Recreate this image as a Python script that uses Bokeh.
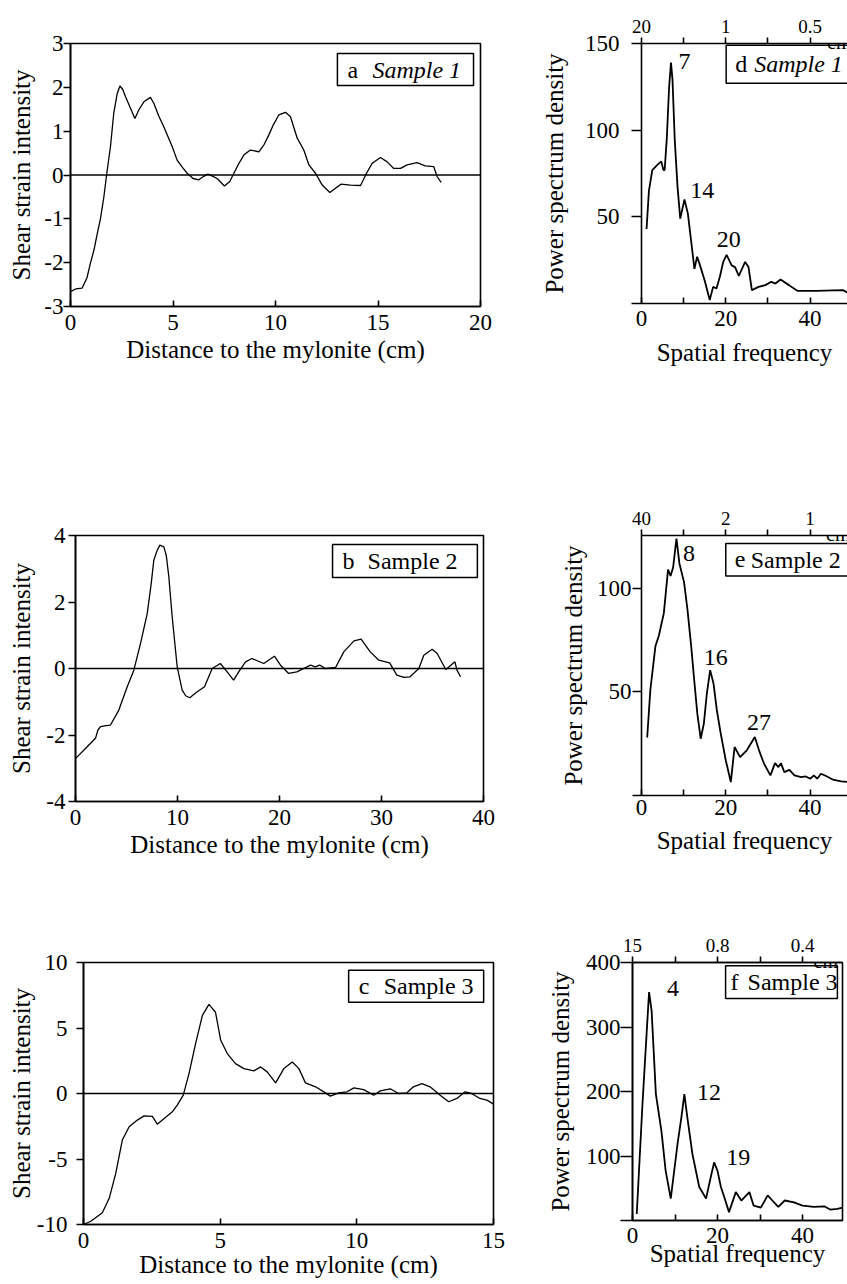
import math
from bokeh.plotting import figure
from bokeh.models import Range1d, FixedTicker, LinearAxis, Span, Label, BoxAnnotation
from bokeh.layouts import column, row
from bokeh.embed import file_html
from bokeh.resources import INLINE

FONT = "Liberation Serif"

# ---------------- data ----------------
# a  Sample 1 : shear strain profile
s1_dist = [0, 0.25, 0.57, 0.8, 0.98, 1.15, 1.3, 1.46, 1.63, 1.76, 1.95, 2.11, 2.28, 2.41, 2.55,
           2.68, 2.9, 3.14, 3.35, 3.58, 3.9, 4.07, 4.3, 4.55, 4.96, 5.2, 5.45, 5.69, 5.98, 6.26,
           6.5, 6.7, 6.9, 7.15, 7.51, 7.77, 7.97, 8.2, 8.46, 8.78, 9.19, 9.45, 9.67, 9.9, 10.16,
           10.49, 10.73, 11.06, 11.38, 11.63, 11.95, 12.28, 12.65, 12.93, 13.2, 13.66, 14.15,
           14.44, 14.72, 15.12, 15.45, 15.77, 16.1, 16.42, 16.9, 17.3, 17.72, 17.89, 18.08]
s1_strain = [-2.66, -2.6, -2.58, -2.35, -2.0, -1.7, -1.35, -1.0, -0.49, 0.0, 0.65, 1.41, 1.86,
             2.03, 1.95, 1.79, 1.55, 1.29, 1.5, 1.67, 1.77, 1.63, 1.35, 1.10, 0.65, 0.34, 0.18,
             0.04, -0.08, -0.11, -0.03, 0.02, -0.02, -0.08, -0.25, -0.15, 0.04, 0.25, 0.46, 0.57,
             0.53, 0.7, 0.91, 1.15, 1.37, 1.43, 1.33, 0.84, 0.57, 0.23, 0.04, -0.23, -0.40, -0.30,
             -0.21, -0.23, -0.24, 0.04, 0.27, 0.40, 0.30, 0.15, 0.15, 0.23, 0.28, 0.21, 0.19,
             -0.04, -0.17]

# b  Sample 2
s2_dist = [0, 1.0, 1.96, 2.2, 2.45, 3.0, 3.43, 4.25, 5.07, 5.72, 6.37, 7.03, 7.4, 7.68, 8.0,
           8.27, 8.66, 8.9, 9.15, 9.48, 9.97, 10.46, 10.8, 11.2, 11.93, 12.65, 13.4, 14.2, 14.87,
           15.5, 16.0, 16.67, 17.3, 18.46, 19.5, 20.1, 20.9, 21.7, 23.04, 23.5, 23.95, 24.5, 25.5,
           26.3, 27.3, 28.0, 28.9, 29.74, 30.8, 31.5, 32.2, 32.8, 33.66, 34.15, 34.97, 35.46,
           36.3, 36.8, 37.2, 37.4, 37.75]
s2_strain = [-2.71, -2.4, -2.1, -1.85, -1.75, -1.72, -1.70, -1.25, -0.55, -0.05, 0.75, 1.65, 2.5,
             3.26, 3.55, 3.71, 3.66, 3.4, 2.76, 1.55, 0.05, -0.65, -0.82, -0.88, -0.70, -0.55,
             0.0, 0.15, -0.1, -0.35, -0.1, 0.2, 0.3, 0.15, 0.37, 0.1, -0.15, -0.10, 0.10, 0.05,
             0.1, 0.0, 0.03, 0.5, 0.83, 0.88, 0.5, 0.25, 0.17, -0.2, -0.27, -0.25, 0.0, 0.4,
             0.58, 0.45, -0.03, 0.1, 0.2, -0.05, -0.25]

# c  Sample 3
s3_dist = [0, 0.27, 0.69, 0.94, 1.18, 1.42, 1.67, 1.97, 2.22, 2.52, 2.70, 2.95, 3.25, 3.43, 3.65,
           3.86, 4.10, 4.35, 4.59, 4.83, 5.02, 5.26, 5.56, 5.87, 6.23, 6.48, 6.72, 7.03, 7.33,
           7.64, 7.88, 8.12, 8.49, 8.85, 9.03, 9.34, 9.64, 9.89, 10.25, 10.62, 10.86, 11.22,
           11.53, 11.83, 12.07, 12.38, 12.68, 13.05, 13.36, 13.66, 13.96, 14.2, 14.5, 14.76, 15.0]
s3_strain = [-10.0, -9.75, -9.1, -8.0, -6.1, -3.55, -2.54, -2.03, -1.71, -1.74, -2.34, -1.9,
             -1.4, -0.89, -0.13, 1.52, 3.81, 5.96, 6.8, 6.2, 4.06, 3.05, 2.28, 1.9, 1.73, 2.03,
             1.65, 0.81, 1.9, 2.41, 1.9, 0.81, 0.51, 0.05, -0.2, 0.05, 0.13, 0.43, 0.3, -0.13,
             0.2, 0.36, 0.0, 0.05, 0.51, 0.76, 0.51, -0.13, -0.63, -0.38, 0.13, 0.0, -0.38,
             -0.51, -0.81]

# d  Sample 1 : power spectrum
s1_freq = [1.2, 1.76, 2.56, 3.76, 4.7, 5.2, 5.5, 6.0, 6.56, 7.0, 7.36, 7.9, 8.56, 9.2, 10.2,
           11.0, 11.76, 12.56, 13.2, 13.76, 14.96, 16.2, 17.0, 17.8, 18.6, 19.4, 20.2, 21.4,
           22.2, 23.1, 24.6, 25.4, 26.2, 27.8, 29.4, 30.8, 31.8, 33.0, 35.0, 37.0, 41.4, 47.8, 49.4]
s1_psd = [43, 65, 77, 80, 82, 77, 77, 95, 125, 139, 129, 94, 67, 49, 60, 52, 36.5, 20, 27, 23,
          13.5, 2, 9.6, 8.7, 15.4, 24, 28, 22, 21, 16, 24, 21, 7.7, 9.6, 10.6, 12.5, 11.5, 13.8,
          10.6, 7.3, 7.3, 7.7, 5.8]

# e  Sample 2
s2_freq = [1.35, 2.1, 3.3, 4.1, 5.3, 6.3, 6.9, 7.5, 8.3, 9.0, 10.1, 10.9, 11.8, 12.5, 13.25,
           14.05, 14.8, 15.5, 16.3, 17.1, 17.9, 18.8, 20.0, 21.2, 22.1, 23.4, 25.0, 26.9, 27.9,
           29.1, 30.6, 31.7, 32.5, 33.1, 33.9, 35.1, 36.3, 37.9, 39.0, 40.1, 40.9, 41.7, 42.6,
           43.8, 45.4, 47.4, 49.0]
s2_psd = [28, 51, 72, 77, 88, 109, 106, 110, 124, 112, 103, 90, 72, 56, 39.5, 27.4, 34.7, 49,
          60.5, 54, 41, 30, 17, 6.5, 23.4, 18.5, 21.8, 28.2, 21.8, 15.3, 9.7, 15.6, 13.7, 15.6,
          11.3, 12.4, 9.7, 8.9, 9.2, 8.1, 9.7, 8.1, 10.5, 9.4, 7.7, 6.8, 6.5]

# f  Sample 3
s3_freq = [1.0, 2.35, 3.4, 3.9, 4.5, 5.5, 6.8, 7.8, 9.0, 10.6, 11.5, 12.2, 12.9, 14.1, 15.7,
           17.3, 18.4, 19.2, 20.0, 20.8, 21.6, 22.7, 24.3, 25.6, 27.5, 28.5, 30.2, 31.8, 32.9,
           34.3, 35.8, 38.0, 40.0, 42.7, 45.1, 46.5, 48.2, 49.4]
s3_psd = [10, 181, 299, 354, 325, 196, 139, 77, 34, 119, 160, 196, 160, 103, 52, 34, 67, 90, 77,
          52, 36, 13, 44, 31, 44, 23, 20, 39, 31, 21, 31, 28, 23, 21, 22, 17, 18, 20]

peaks_1 = ["7", "14", "20"]
peaks_2 = ["8", "16", "27"]
peaks_3 = ["4", "12", "19"]

wavelength_1 = ["20", "1", "0.5"]
wavelength_2 = ["40", "2", "1"]
wavelength_3 = ["15", "0.8", "0.4"]

# ---------------- helpers ----------------
def make_fig(xr, yr, g, outline=True):
    p = figure(x_range=Range1d(xr[0], xr[1]), y_range=Range1d(yr[0], yr[1]),
               frame_width=g["fw"], frame_height=g["fh"],
               min_border_left=g["bl"], min_border_top=g["bt"],
               min_border_bottom=g["bb"], min_border_right=g["br"],
               toolbar_location=None, tools="", output_backend="svg")
    p.xgrid.visible = False
    p.ygrid.visible = False
    p.background_fill_color = "white"
    p.border_fill_color = "white"
    p.outline_line_color = "black" if outline else None
    p.outline_line_alpha = 1.0
    p.outline_line_width = 1.6
    return p


def style_axis(ax, ticks, labels, size, tick_in, tick_out, standoff,
               title=None, title_standoff=0):
    ax.ticker = FixedTicker(ticks=ticks)
    ax.major_label_overrides = {t: s for t, s in zip(ticks, labels)}
    ax.axis_line_color = "black"
    ax.axis_line_width = 1.6
    ax.major_tick_line_color = "black"
    ax.major_tick_line_width = 1.6
    ax.major_tick_in = tick_in
    ax.major_tick_out = tick_out
    ax.minor_tick_line_color = None
    ax.major_label_standoff = standoff
    ax.major_label_text_font = FONT
    ax.major_label_text_font_size = size
    ax.major_label_text_color = "black"
    if title is not None:
        ax.axis_label = title
        ax.axis_label_standoff = title_standoff
        ax.axis_label_text_font = FONT
        ax.axis_label_text_font_size = "25px"
        ax.axis_label_text_font_style = "normal"
        ax.axis_label_text_color = "black"


def add_text(p, x, y, s, size="24px", align="center", baseline="middle", style="normal"):
    p.add_layout(Label(x=x, y=y, text=s, text_font=FONT, text_font_size=size,
                       text_align=align, text_baseline=baseline, text_font_style=style,
                       text_color="black"))


def scales(xr, yr, g):
    return g["fw"] / (xr[1] - xr[0]), g["fh"] / (yr[1] - yr[0])


def legend_box(p, xr, yr, g, box, letter, sample, italic, off_letter, off_sample):
    sx, sy = scales(xr, yr, g)
    x0, x1, y0, y1 = box
    p.add_layout(BoxAnnotation(left=x0, right=x1, bottom=y0, top=y1, fill_color="white",
                               fill_alpha=1.0, line_color="black", line_alpha=1.0,
                               line_width=1.5))
    ym = (y0 + y1) / 2
    add_text(p, x0 + off_letter / sx, ym, letter, align="left")
    add_text(p, x0 + off_sample / sx, ym, sample, align="left",
             style="italic" if italic else "normal")


def profile_panel(xs, ys, xr, yr, xticks, yticks, g, box, letter, sample, italic,
                  ylab_standoff, ytitle_standoff, xtitle_standoff):
    p = make_fig(xr, yr, g)
    p.line(xs, ys, line_color="black", line_width=1.3)
    p.add_layout(Span(location=0, dimension="width", line_color="black", line_width=1.6))
    style_axis(p.xaxis[0], xticks, [str(t) for t in xticks], "23px", 6, 0, 8,
               "Distance to the mylonite (cm)", xtitle_standoff)
    style_axis(p.yaxis[0], yticks, [str(t) for t in yticks], "23px", 0, 7, ylab_standoff,
               "Shear strain intensity", ytitle_standoff)
    legend_box(p, xr, yr, g, box, letter, sample, italic, 10, 35)
    return p


def spectrum_panel(xs, ys, xr, yr, yticks, g, top_labels, peaks, peak_pos, box, letter,
                   sample, italic, outline, ytick_out, ylab_standoff, xlab_standoff,
                   ytitle_standoff, xtitle_standoff, cm_off, offs):
    p = make_fig(xr, yr, g, outline=outline)
    sx, sy = scales(xr, yr, g)
    p.line(xs, ys, line_color="black", line_width=1.8)
    xt = [0, 10, 20, 30, 40]
    style_axis(p.xaxis[0], xt, ["0", "", "20", "", "40"], "23px", 6, 0, xlab_standoff,
               "Spatial frequency", xtitle_standoff)
    style_axis(p.yaxis[0], yticks, [""] + [str(t) for t in yticks[1:]], "23px", 0, ytick_out,
               ylab_standoff, "Power spectrum density", ytitle_standoff)
    top = LinearAxis()
    style_axis(top, xt, [top_labels[0], "", top_labels[1], "", top_labels[2]], "19px", 0, 6, 5)
    p.add_layout(top, "above")
    for txt, (px_, py_) in zip(peaks, peak_pos):
        add_text(p, px_, py_, txt)
    legend_box(p, xr, yr, g, box, letter, sample, italic, offs[0], offs[1])
    add_text(p, 40 + cm_off / sx, yr[1] + 2 / sy, "cm", size="20px", align="left",
             baseline="alphabetic")
    return p


# ---------------- layout geometry (pixels) ----------------
GEO = {
    "a": dict(fw=410, fh=263, bl=70, bt=40, bb=123, br=50),
    "b": dict(fw=408, fh=266, bl=75, bt=106, bb=62, br=47),
    "c": dict(fw=410, fh=262, bl=83, bt=102, bb=60, br=37),
    "d": dict(fw=206, fh=260, bl=111, bt=43, bb=123, br=0),
    "e": dict(fw=206, fh=260, bl=111, bt=109, bb=65, br=0),
    "f": dict(fw=210, fh=258, bl=102, bt=102, bb=64, br=5),
}

pa = profile_panel(s1_dist, s1_strain, (0, 20), (-3, 3), [0, 5, 10, 15, 20],
                   [-3, -2, -1, 0, 1, 2, 3], GEO["a"], (13.02, 19.66, 2.04, 2.77),
                   "a", "Sample 1", True, 0, 6, 3)
pb = profile_panel(s2_dist, s2_strain, (0, 40), (-4, 4), [0, 10, 20, 30, 40],
                   [-4, -2, 0, 2, 4], GEO["b"], (25.2, 39.4, 2.74, 3.73),
                   "b", "Sample 2", False, 3, 8, 3)
pc = profile_panel(s3_dist, s3_strain, (0, 15), (-10, 10), [0, 5, 10, 15],
                   [-10, -5, 0, 5, 10], GEO["c"], (9.70, 14.64, 6.97, 9.41),
                   "c", "Sample 3", False, 9, -1, 0)

pd_ = spectrum_panel(s1_freq, s1_psd, (0, 48.9), (0, 150), [0, 50, 100, 150], GEO["d"],
                     wavelength_1, peaks_1, [(10.2, 139.9), (14.4, 65.2), (20.7, 37.2)],
                     (20.1, 52, 127, 149), "d", "Sample 1", True, False,
                     10, 12, 7, 14, 10, 17, (9, 28))
pe = spectrum_panel(s2_freq, s2_psd, (0, 48.9), (0, 125.5), [0, 50, 100], GEO["e"],
                    wavelength_2, peaks_2, [(11.3, 117), (17.6, 66.6), (27.9, 35.2)],
                    (20.0, 52, 106, 121.6), "e", "Sample 2", False, False,
                    9, 1, 4, 7, 9, 16, (9, 25))
pf = spectrum_panel(s3_freq, s3_psd, (0, 49.4), (0, 400), [0, 100, 200, 300, 400], GEO["f"],
                    wavelength_3, peaks_3, [(9.5, 360), (18.0, 197.7), (24.9, 98.4)],
                    (21.9, 48.2, 344, 395), "f", "Sample 3", False, True,
                    12, 0, 7, 9, -6, 11, (5, 22))

layout = column(row(pa, pd_), row(pb, pe), row(pc, pf))

with open("out.html", "w") as fh:
    fh.write(file_html(layout, INLINE))
